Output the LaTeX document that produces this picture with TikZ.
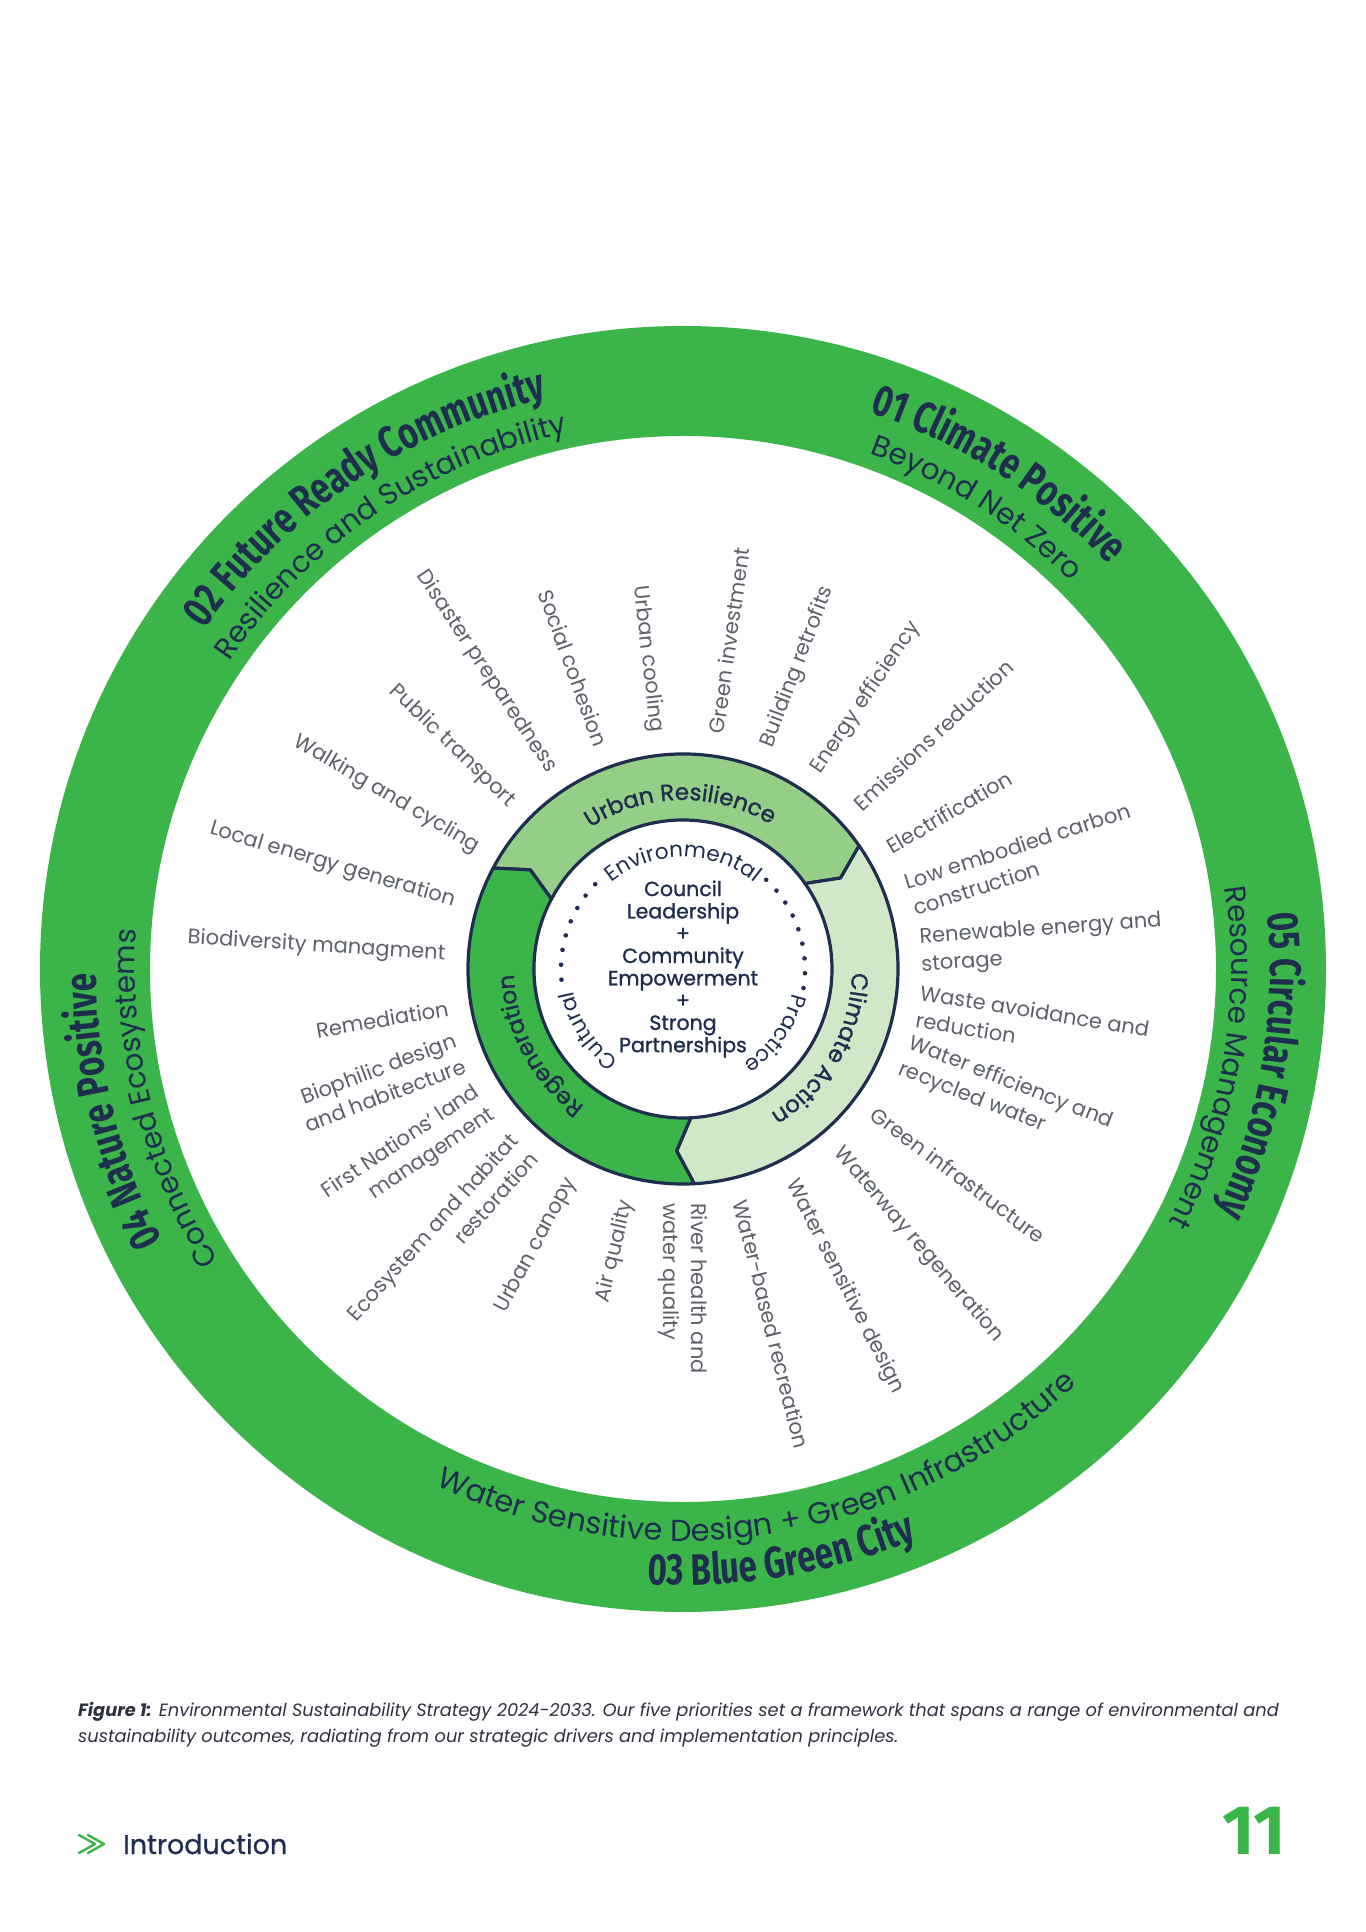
\documentclass[tikz,border=0pt]{standalone}
\usepackage{fontspec}
\setmainfont{Poppins}
\newfontfamily\headfont[FakeStretch=0.75]{Fira Sans}
\newfontfamily\numfont{Fira Sans}
\newfontfamily\semifont[FakeBold=1.2]{Poppins}
\newfontfamily\medfont[FakeBold=0.7]{Poppins}
\usetikzlibrary{decorations.text}
\definecolor{ringgreen}{HTML}{3BB54A}
\definecolor{midgreen}{HTML}{94CE87}
\definecolor{palegreen}{HTML}{D0E8C8}
\definecolor{navy}{HTML}{1F2D4E}
\definecolor{labelgrey}{HTML}{5C616B}
\definecolor{captext}{HTML}{2E3240}
\newcommand{\titlefmt}{\headfont\bfseries\fontsize{44}{44}\selectfont}
\newcommand{\subfmt}{\fontsize{29.5}{29.5}\selectfont}
\newcommand{\bsubfmt}{\fontsize{30.5}{30.5}\selectfont}
\newcommand{\bandfmt}{\semifont\fontsize{23}{23}\selectfont}
\newcommand{\innerfmt}{\fontsize{21.5}{21.5}\selectfont}
% clockwise text (tops outward): radius, centre angle, format, text
\newcommand{\cwtext}[4]{%
  \path[decorate, decoration={text along path, text align=center, text color=navy, text={|#3|#4}}]
    ({#2+70}:#1pt) arc[start angle={#2+70}, end angle={#2-70}, radius=#1pt];}
% counter-clockwise text (tops inward)
\newcommand{\ccwtext}[4]{%
  \path[decorate, decoration={text along path, text align=center, text color=navy, text={|#3|#4}}]
    ({#2-70}:#1pt) arc[start angle={#2-70}, end angle={#2+70}, radius=#1pt];}
\begin{document}
\begin{tikzpicture}[x=1pt,y=1pt,
  rlab/.style={anchor=west, inner sep=0pt, align=left, text=labelgrey, font=\fontsize{21}{27.5}\selectfont},
  llab/.style={anchor=east, inner sep=0pt, align=right, text=labelgrey, font=\fontsize{21}{27.5}\selectfont},
  seg/.style={draw=navy, line width=3.2pt, line join=round},
  captxt/.style={anchor=base west, inner sep=0pt, text=captext, font=\itshape\fontsize{17.8}{22}\selectfont}]
\fill[white] (-683,-963) rectangle (682,969);
\useasboundingbox (-683,-963) rectangle (682,969);

% outer green ring
\fill[ringgreen, even odd rule] (0,0) circle[radius=643pt] (0,0) circle[radius=533pt];

% ring texts
\cwtext{587}{124}{\titlefmt}{02 Future Ready Community}
\cwtext{548}{124}{\subfmt}{Resilience and Sustainability}
\cwtext{587}{57.5}{\titlefmt}{01 Climate Positive}
\cwtext{548}{57.5}{\subfmt}{Beyond Net Zero}
\cwtext{587}{-9.5}{\titlefmt}{05 Circular Economy}
\cwtext{548}{-9.5}{\subfmt}{Resource Management}
\cwtext{587}{194}{\titlefmt}{04 Nature Positive}
\cwtext{548}{194}{\subfmt}{Connected Ecosystems}
\ccwtext{572}{-81}{\bsubfmt}{Water Sensitive Design + Green Infrastructure}
\ccwtext{616}{-80.5}{\titlefmt}{03 Blue Green City}

% inner band segments
\filldraw[seg, fill=midgreen] (152:215pt) arc[start angle=152, end angle=35, radius=215pt] -- (30:182pt) -- (35:149pt) arc[start angle=35, end angle=152, radius=149pt] -- (147:182pt) -- cycle;
\filldraw[seg, fill=palegreen] (35:215pt) arc[start angle=35, end angle=-87, radius=215pt] -- (-92:182pt) -- (-87:149pt) arc[start angle=-87, end angle=35, radius=149pt] -- (30:182pt) -- cycle;
\filldraw[seg, fill=ringgreen] (273:215pt) arc[start angle=273, end angle=152, radius=215pt] -- (147:182pt) -- (152:149pt) arc[start angle=152, end angle=273, radius=149pt] -- (268:182pt) -- cycle;

\cwtext{169}{91}{\bandfmt}{Urban Resilience}
\cwtext{169}{-30}{\bandfmt}{Climate Action}
\cwtext{169}{208}{\bandfmt}{Regeneration}

% inner circle words and dots
\cwtext{112}{90}{\innerfmt}{Environmental}
\cwtext{112}{-35}{\innerfmt}{Practice}
\cwtext{112}{213}{\innerfmt}{Cultural}
\foreach \a in {136,143,150,157,164,171,178,185,47,40,33,26,19,12,5,-2,-9}
  \fill[navy] (\a:122pt) circle[radius=2.3pt];

\node[align=center, text=navy, font=\semifont\fontsize{20.5}{22.3}\selectfont] (core) at (0,0)
  {Council\\Leadership\\+\\Community\\Empowerment\\+\\Strong\\Partnerships};

% spoke labels, right half
\node[rlab, rotate=82] (r1) at (82:238pt) {Green investment};
\node[rlab, rotate=69.2] (r2) at (69.2:238pt) {Building retrofits};
\node[rlab, rotate=56] (r3) at (56:238pt) {Energy efficiency};
\node[rlab, rotate=43] (r4) at (43:238pt) {Emissions reduction};
\node[rlab, rotate=30.5] (r5) at (30.5:238pt) {Electrification};
\node[rlab, rotate=18] (r6) at (18:238pt) {Low embodied carbon\\construction};
\node[rlab, rotate=4] (r7) at (4:238pt) {Renewable energy and\\storage};
\node[rlab, rotate=-9] (r8) at (-9:238pt) {Waste avoidance and\\reduction};
\node[rlab, rotate=-21.5] (r9) at (-21.5:238pt) {Water efficiency and\\recycled water};
\node[rlab, rotate=-36.8] (r10) at (-36.8:238pt) {Green infrastructure};
\node[rlab, rotate=-49.5] (r11) at (-49.5:238pt) {Waterway regeneration};
\node[rlab, rotate=-63] (r12) at (-63:238pt) {Water sensitive design};
\node[rlab, rotate=-76] (r13) at (-76:238pt) {Water-based recreation};
\node[rlab, rotate=-90] (r14) at (-90:234pt) {River health and\\water quality};

% spoke labels, left half
\node[llab, rotate=-83.5] (l1) at (96.5:238pt) {Urban cooling};
\node[llab, rotate=-70] (l2) at (110:238pt) {Social cohesion};
\node[llab, rotate=-56.5] (l3) at (123.5:238pt) {Disaster preparedness};
\node[llab, rotate=-44] (l4) at (136:238pt) {Public transport};
\node[llab, rotate=-30.5] (l5) at (149.5:238pt) {Walking and cycling};
\node[llab, rotate=-16.5] (l6) at (163.5:238pt) {Local energy generation};
\node[llab, rotate=-3.5] (l7) at (176.5:238pt) {Biodiversity managment};
\node[llab, rotate=9.5] (l8) at (189.5:238pt) {Remediation};
\node[llab, rotate=20.5] (l9) at (200.5:238pt) {Biophilic design\\and habitecture};
\node[llab, rotate=34] (l10) at (214:238pt) {First Nations' land\\management};
\node[llab, rotate=48] (l11) at (228:238pt) {Ecosystem and habitat\\restoration};
\node[llab, rotate=62] (l12) at (242:238pt) {Urban canopy};
\node[llab, rotate=76.5] (l13) at (256.5:238pt) {Air quality};

% caption
\node[captxt] (cap1) at (-605,-747)
  {\textbf{Figure 1:} Environmental Sustainability Strategy 2024-2033. Our five priorities set a framework that spans a range of environmental and};
\node[captxt] (cap2) at (-605,-773)
  {sustainability outcomes, radiating from our strategic drivers and implementation principles.};

% footer
\draw[ringgreen, line width=2.4pt, line cap=round, line join=round] (-604,-866) -- (-588,-875) -- (-604,-884);
\draw[ringgreen, line width=2.4pt, line cap=round, line join=round] (-595,-866) -- (-579,-875) -- (-595,-884);
\node[anchor=base west, inner sep=0pt, text=navy, font=\medfont\fontsize{27}{27}\selectfont] (intro) at (-560,-885) {Introduction};
\node[anchor=base east, inner sep=0pt, text=ringgreen, font=\numfont\bfseries\fontsize{70}{70}\selectfont] (pnum) at (603,-885) {11};
\end{tikzpicture}
\end{document}
